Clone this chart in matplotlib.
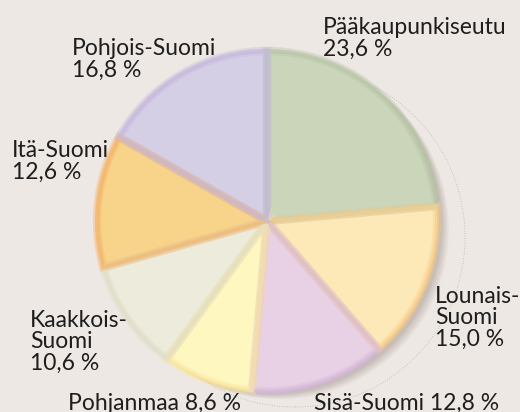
import matplotlib
matplotlib.use("Agg")
import matplotlib.pyplot as plt
from matplotlib.patches import Circle

# regions, clockwise from 12 o'clock
regions = ["Pääkaupunkiseutu", "Lounais-Suomi", "Sisä-Suomi", "Pohjanmaa",
           "Kaakkois-Suomi", "Itä-Suomi", "Pohjois-Suomi"]
shares = [23.6, 15.0, 12.8, 8.6, 10.6, 12.6, 16.8]
labels = ["Pääkaupunkiseutu\n23,6 %", "Lounais-\nSuomi\n15,0 %",
          "Sisä-Suomi 12,8 %", "Pohjanmaa 8,6 %",
          "Kaakkois-\nSuomi\n10,6 %", "Itä-Suomi\n12,6 %",
          "Pohjois-Suomi\n16,8 %"]

fills = ["#cbd5b9", "#fde9b8", "#e9d1e5", "#fff7c0", "#edebdb", "#f8d38a", "#d5cfe6"]
rims = ["#b9c6a8", "#f9d08e", "#d8bcdc", "#fbe7a0", "#e0dec9", "#f4b468", "#c5b9dc"]

W, H = 520, 412
bg = "#ede8e4"
fig = plt.figure(figsize=(W / 100, H / 100), dpi=100, facecolor=bg)
ax = fig.add_axes([0, 0, 1, 1])
ax.set_facecolor(bg)

cx, cy, r = 267, H - 221, 170

# soft shadow towards lower right
for k in range(1, 16):
    ax.add_patch(Circle((cx + k * 0.8, cy - k * 0.55), r, color="#6e5e56",
                        alpha=0.03, lw=0, zorder=1))
ax.add_patch(Circle((295, H - 237), r, fill=False, ec="#bdb5b0", lw=0.6,
                    ls=(0, (1, 2)), zorder=1))

wedges, _ = ax.pie(shares, colors=fills, startangle=90, counterclock=False,
                   center=(cx, cy), radius=r, frame=True,
                   wedgeprops=dict(linewidth=0))
for w in wedges:
    w.set_zorder(2)

# bevelled rim inside each slice: wide pale stroke + narrow stronger one
for lw, a in [(6, 0.4), (3, 0.7)]:
    rings, _ = ax.pie(shares, startangle=90, counterclock=False,
                      center=(cx, cy), radius=r, frame=True,
                      wedgeprops=dict(fill=False, linewidth=lw))
    for ring, w, rc in zip(rings, wedges, rims):
        ring.set_edgecolor(rc)
        ring.set_alpha(a)
        ring.set_clip_path(w)
        ring.set_zorder(3)

ax.set_xlim(0, W)
ax.set_ylim(0, H)
ax.set_aspect("equal")
ax.axis("off")

font = dict(family=["Lato", "DejaVu Sans"], fontsize=16.5,
            color="#1e1e1e", linespacing=1.04, va="baseline", ha="left")
# x and baseline of the last line, px from the top-left corner
positions = [(323, 56), (435, 346), (314, 410), (68, 410), (30, 370),
             (12, 179), (72, 77)]
for lab, (x, y) in zip(labels, positions):
    ax.text(x, H - y, lab, **font)

fig.savefig("out.png", dpi=100, facecolor=bg)
